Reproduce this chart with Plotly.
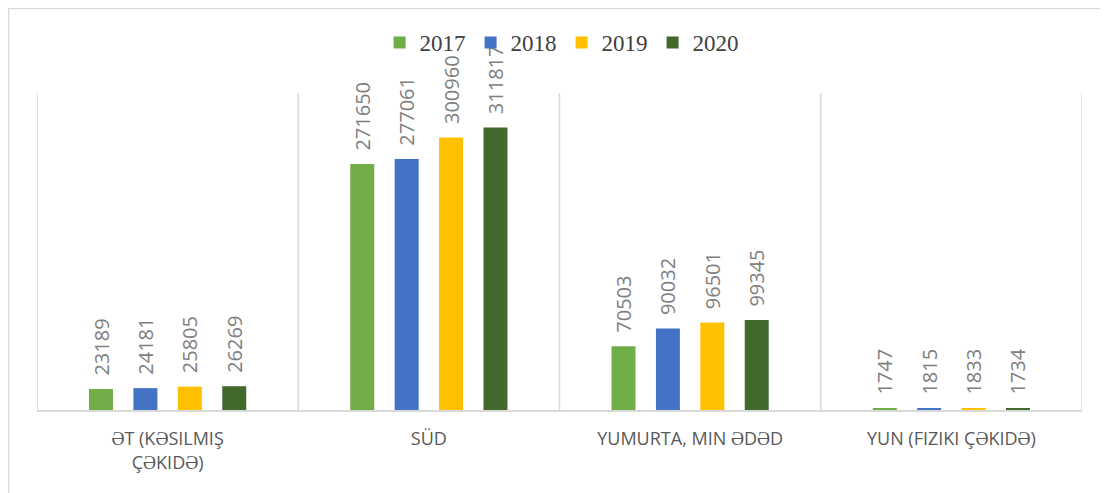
import plotly.graph_objects as go

categories = ["ƏT (KƏSILMIŞ<br>ÇƏKIDƏ)", "SÜD", "YUMURTA, MIN ƏDƏD", "YUN (FIZIKI ÇƏKIDƏ)"]
years = ["2017", "2018", "2019", "2020"]
v2017 = [23189, 271650, 70503, 1747]
v2018 = [24181, 277061, 90032, 1815]
v2019 = [25805, 300960, 96501, 1833]
v2020 = [26269, 311817, 99345, 1734]
colors = ["#70AD47", "#4472C4", "#FFC000", "#43682B"]

series = [v2017, v2018, v2019, v2020]

# page has an 8px body margin; figure coordinates are page coordinates minus 8
W, H = 1108, 493
ml, mr, mt, mb = 29, 34, 32, 91
grid_top_px = 85          # where the category separators start (figure px)
ymax_grid = 350000
ph = H - mt - mb
pw = W - ml - mr
ymax = ymax_grid * ph / (H - mb - grid_top_px)

fig = go.Figure()
for name, vals, col in zip(years, series, colors):
    fig.add_trace(go.Bar(
        x=categories, y=vals, name=name,
        marker=dict(color=col, line=dict(width=0)),
        text=[str(v) for v in vals], texttemplate="\u00a0\u00a0%{text}",
        textposition="outside", textangle=-90, constraintext="none",
        textfont=dict(family="Open Sans", size=20, color="#808080"),
        cliponaxis=False,
    ))

# category separators
for b in [-0.5, 0.5, 1.5, 2.5, 3.5]:
    fig.add_shape(type="line", xref="x", yref="y", x0=b, x1=b, y0=0, y1=ymax_grid,
                  line=dict(color="#d9d9d9", width=1.5), layer="below")

# outer chart border
fig.add_shape(type="rect", xref="paper", yref="paper",
              x0=(0.5 - ml) / pw, x1=(W + 20 - ml) / pw,
              y0=-(H + 20 - mt - ph) / ph, y1=1 + (mt - 0.5) / ph,
              line=dict(color="#d9d9d9", width=1.5), fillcolor="rgba(0,0,0,0)", layer="below")

fig.update_layout(
    width=W, height=H,
    margin=dict(l=ml, r=mr, t=mt, b=mb),
    paper_bgcolor="white", plot_bgcolor="white",
    barmode="group", bargap=0.32, bargroupgap=0.46,
    legend=dict(orientation="h", x=0.502, xanchor="center", y=1 + (mt - 13) / ph, yanchor="top",
                bgcolor="rgba(0,0,0,0)",
                font=dict(family="Liberation Serif", size=23, color="#404040"),
                itemwidth=30, traceorder="normal"),
    xaxis=dict(showgrid=False,
               showline=True, linecolor="#d9d9d9", linewidth=1.5, ticks="",
               ticklabelstandoff=12,
               tickfont=dict(family="Open Sans", size=18, color="#595959"),
               range=[-0.5, 3.5]),
    yaxis=dict(range=[0, ymax], showgrid=False, showticklabels=False, zeroline=False, showline=False),
    showlegend=True,
)

fig.write_html("out.html")
